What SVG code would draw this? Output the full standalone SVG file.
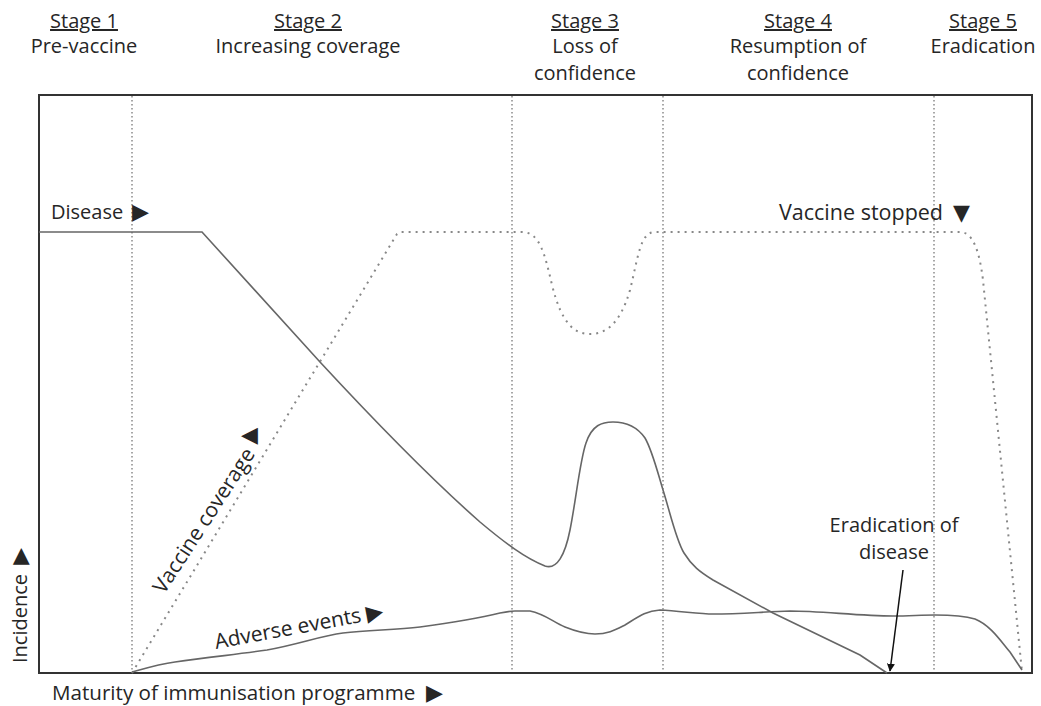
<svg xmlns="http://www.w3.org/2000/svg" width="1041" height="706" viewBox="0 0 1041 706">
<style>
text{font-family:"Open Sans","DejaVu Sans",sans-serif;font-size:20px;fill:#262626}
.mid{text-anchor:middle}
.tri{font-size:22px}
.grid{stroke:#8a8a8a;stroke-width:1.5;stroke-dasharray:1.5 2.5;fill:none}
.curve{stroke:#666;stroke-width:1.6;fill:none}
.vacc{stroke:#888;stroke-width:2;stroke-dasharray:2 5;fill:none}
.frame{stroke:#333;stroke-width:2;fill:none}
</style>
<defs>
<marker id="ah" viewBox="0 0 10 10" refX="9" refY="5" markerWidth="8" markerHeight="8" orient="auto" markerUnits="userSpaceOnUse">
<path d="M0,0 L10,5 L0,10 z" fill="#111"/>
</marker>
</defs>
<rect width="1041" height="706" fill="#fff"/>
<g id="headers">
<text class="mid" x="84" y="28" text-decoration="underline">Stage 1</text>
<text class="mid" x="84" y="53">Pre-vaccine</text>
<text class="mid" x="308" y="28" text-decoration="underline">Stage 2</text>
<text class="mid" x="308" y="53">Increasing coverage</text>
<text class="mid" x="585" y="28" text-decoration="underline">Stage 3</text>
<text class="mid" x="585" y="53">Loss of</text>
<text class="mid" x="585" y="80">confidence</text>
<text class="mid" x="798" y="28" text-decoration="underline">Stage 4</text>
<text class="mid" x="798" y="53">Resumption of</text>
<text class="mid" x="798" y="80">confidence</text>
<text class="mid" x="983" y="28" text-decoration="underline">Stage 5</text>
<text class="mid" x="983" y="53">Eradication</text>
</g>
<g id="grid">
<line class="grid" x1="132" y1="96" x2="132" y2="672"/>
<line class="grid" x1="512" y1="96" x2="512" y2="672"/>
<line class="grid" x1="663" y1="96" x2="663" y2="672"/>
<line class="grid" x1="934" y1="96" x2="934" y2="672"/>
</g>
<g id="frame">
<rect class="frame" x="39" y="95" width="993" height="578"/>
</g>
<g id="connectors">
<path id="vaccine-coverage" class="vacc" d="M132,673 L397,234 L400,232 L522,232 C540,232 545,255 552,285 C562,325 575,334 590,334 C605,334 620,325 630,290 C638,258 640,232 655,232 L960,232 C972,232 979,248 983,280 L1022,672"/>
<path id="disease" class="curve" d="M39,232 L202,232 L320,362 C370,416 430,478 480,522 C505,543 525,558 545,566 C557,570 565,555 570,530 C576,500 580,460 586,443 C592,425 602,422 613,422 C627,422 638,428 645,438 C652,450 657,470 663,490 C670,512 676,540 684,553 C692,566 700,572 713,580 L773,613 L860,655 L887,673"/>
<path id="adverse-events" class="curve" d="M132,672 C150,667 160,664 175,662 C210,657 240,654 267,650 C300,644 320,636 343,633 C370,630 395,630 420,627 C450,623 480,618 500,613 C505,612 510,611 515,611 L530,611 C545,614 553,622 565,627 C575,631 585,634 595,634 C608,634 615,630 625,625 C638,617 645,611 660,610 C680,611 700,614 713,614 C740,614 760,612 790,611 C820,611 860,616 893,616 C910,616 920,615 935,615 C955,615 965,616 975,619 C990,625 1000,640 1010,652 L1022,670"/>
<line id="eradication-arrow" x1="903" y1="570" x2="890" y2="671" stroke="#111" stroke-width="1.5" marker-end="url(#ah)"/>
</g>
<g id="label-disease"><text x="51" y="219">Disease <tspan class="tri" x="132">▶</tspan></text></g>
<g id="label-vaccine-stopped"><text x="779" y="220" style="font-size:21.5px">Vaccine stopped <tspan class="tri" x="953">▼</tspan></text></g>
<g id="label-vaccine-coverage"><text transform="translate(164,595) rotate(-57)" style="font-size:21px">Vaccine coverage</text><text class="tri" x="241" y="442">◀</text></g>
<g id="label-adverse-events"><text transform="translate(216,649) rotate(-10.5)" style="font-size:21px">Adverse events <tspan class="tri">▶</tspan></text></g>
<g id="label-eradication"><text class="mid" x="894" y="532">Eradication of</text><text class="mid" x="894" y="559">disease</text></g>
<g id="axis-y"><text transform="translate(27,663) rotate(-90)">Incidence <tspan class="tri" dx="4">▶</tspan></text></g>
<g id="axis-x"><text x="52" y="700" style="font-size:20.6px">Maturity of immunisation programme <tspan class="tri" x="426">▶</tspan></text></g>
</svg>
